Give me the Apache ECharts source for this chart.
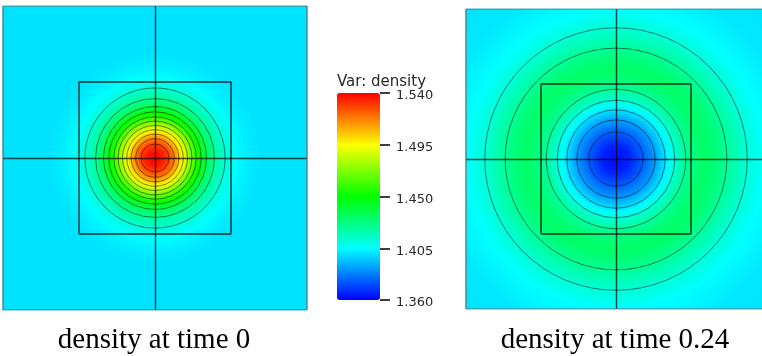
<!DOCTYPE html>
<html>
<head>
<meta charset="utf-8">
<script src="https://cdn.jsdelivr.net/npm/echarts@6/dist/echarts.min.js"></script>
<style>
html, body { margin: 0; padding: 0; background: #fff; }
#chart { width: 762px; height: 356px; }
</style>
</head>
<body>
<div id="chart"></div>
<script>
// radial density profiles (r in panel units, panel spans -1..1)
var profileR0 = [0, 0.05, 0.092, 0.127, 0.157, 0.186, 0.214, 0.243, 0.271, 0.304, 0.339, 0.391, 0.461, 0.53, 0.60, 0.70, 1.5];
var profileV0 = [1.540, 1.536, 1.528, 1.517, 1.505, 1.493, 1.482, 1.470, 1.458, 1.447, 1.435, 1.423, 1.412, 1.405, 1.402, 1.400, 1.400];
var profileR1 = [0, 0.09, 0.181, 0.261, 0.328, 0.392, 0.465, 0.53, 0.60, 0.67, 0.739, 0.875, 1.0, 1.2, 1.5];
var profileV1 = [1.362, 1.366, 1.377, 1.388, 1.400, 1.412, 1.423, 1.429, 1.432, 1.429, 1.423, 1.412, 1.405, 1.401, 1.400];

// contour circles (radius, level)
var contourR0 = [0.461, 0.391, 0.339, 0.304, 0.271, 0.243, 0.214, 0.186, 0.157, 0.127, 0.092];
var contourV0 = [1.412, 1.423, 1.435, 1.447, 1.458, 1.470, 1.482, 1.493, 1.505, 1.517, 1.528];
var contourR1 = [0.181, 0.261, 0.328, 0.392, 0.465, 0.739, 0.875];
var contourV1 = [1.377, 1.388, 1.400, 1.412, 1.423, 1.423, 1.412];

var captions = ['density at time 0', 'density at time 0.24'];
var barTitle = 'Var: density';
var barTicks = ['1.360', '1.405', '1.450', '1.495', '1.540'];
var barColors = ['#0000ff', '#00ffff', '#00ff00', '#ffff00', '#ff0000'];
var densityRange = [1.36, 1.54];
var extent = [-1, 1];
var blockEdges = [-0.5, 0.5];
var crossAt = 0;

function lookup(rs, vs, r) {
    for (var k = 1; k < rs.length; k++) {
        if (r <= rs[k]) {
            var t = (r - rs[k - 1]) / (rs[k] - rs[k - 1]);
            return vs[k - 1] + t * (vs[k] - vs[k - 1]);
        }
    }
    return vs[vs.length - 1];
}

function field(rs, vs, n) {
    var out = [];
    var step = (extent[1] - extent[0]) / n;
    for (var i = 0; i < n; i++) {
        for (var j = 0; j < n; j++) {
            var x = extent[0] + (i + 0.5) * step;
            var y = extent[0] + (j + 0.5) * step;
            out.push([i, j, lookup(rs, vs, Math.sqrt(x * x + y * y))]);
        }
    }
    return out;
}

function ids(n) {
    var list = [];
    for (var i = 0; i < n; i++) list.push(i);
    return list;
}

var panels = [
    { left: 3, top: 6, size: 304, cells: 152, prof: [profileR0, profileV0], cont: [contourR0, contourV0] },
    { left: 466, top: 9, size: 300, cells: 150, prof: [profileR1, profileV1], cont: [contourR1, contourV1] }
];

var grids = [], xAxes = [], yAxes = [], series = [];
panels.forEach(function (p, k) {
    var box = { left: p.left, top: p.top, width: p.size, height: p.size, outerBoundsMode: 'none' };
    grids.push(Object.assign({}, box), Object.assign({}, box));
    var g = k * 2;
    xAxes.push({ type: 'category', gridIndex: g, data: ids(p.cells), show: false });
    yAxes.push({ type: 'category', gridIndex: g, data: ids(p.cells), show: false });
    xAxes.push({ type: 'value', gridIndex: g + 1, min: extent[0], max: extent[1], show: false });
    yAxes.push({ type: 'value', gridIndex: g + 1, min: extent[0], max: extent[1], show: false });
});

// heatmaps (series 0 and 1)
panels.forEach(function (p, k) {
    series.push({
        type: 'heatmap',
        xAxisIndex: k * 2,
        yAxisIndex: k * 2,
        data: field(p.prof[0], p.prof[1], p.cells),
        progressive: 0,
        silent: true
    });
});

var a = blockEdges[0], b = blockEdges[1];
var lo = extent[0], hi = extent[1];
panels.forEach(function (p, k) {
    var ax = k * 2 + 1;
    // contour circles
    series.push({
        type: 'custom',
        xAxisIndex: ax,
        yAxisIndex: ax,
        silent: true,
        z: 5,
        data: p.cont[0].map(function (r, i) { return [r, p.cont[1][i]]; }),
        encode: { x: 0, y: 1 },
        renderItem: function (params, api) {
            var c = api.coord([crossAt, crossAt]);
            var r = api.size([api.value(0), 0])[0];
            return {
                type: 'circle',
                shape: { cx: c[0], cy: c[1], r: r },
                style: { fill: null, stroke: 'rgba(0,0,0,0.5)', lineWidth: 1 }
            };
        }
    });
    // block outline + centre cross
    series.push({
        type: 'line',
        xAxisIndex: ax,
        yAxisIndex: ax,
        silent: true,
        z: 6,
        symbol: 'none',
        data: [[a, a], [b, a], [b, b], [a, b], [a, a]],
        lineStyle: { color: 'rgba(0,0,0,0.8)', width: 1.4 },
        markLine: {
            silent: true,
            symbol: 'none',
            label: { show: false },
            lineStyle: { color: 'rgba(0,0,0,0.72)', width: 1.4, type: 'solid' },
            data: [{ xAxis: crossAt }, { yAxis: crossAt }]
        }
    });
    // panel frame
    series.push({
        type: 'line',
        xAxisIndex: ax,
        yAxisIndex: ax,
        silent: true,
        z: 6,
        symbol: 'none',
        data: [[lo, lo], [hi, lo], [hi, hi], [lo, hi], [lo, lo]],
        lineStyle: { color: '#56737a', width: 1.2 }
    });
});

// colour bar tick axis
grids.push({ left: 337, top: 93, width: 43, height: 207, outerBoundsMode: 'none' });
xAxes.push({ type: 'value', gridIndex: 4, min: 0, max: 1, show: false });
yAxes.push({
    type: 'value',
    gridIndex: 4,
    position: 'right',
    min: 0,
    max: barTicks.length - 1,
    interval: 1,
    z: 10,
    axisLine: { show: false, onZero: false },
    axisTick: { show: true, length: 10, lineStyle: { color: '#000', width: 1.5 } },
    splitLine: { show: false },
    axisLabel: {
        margin: 16,
        color: '#2a2a2a',
        fontFamily: 'DejaVu Sans',
        fontSize: 13,
        formatter: function (v) { return '{t|' + barTicks[v] + '}'; },
        rich: {
            t: { fontFamily: 'DejaVu Sans', fontSize: 13, color: '#2a2a2a', padding: [6, 0, 0, 0] }
        }
    }
});

var myChart = echarts.init(document.getElementById('chart'));
var option = {
    backgroundColor: '#fff',
    animation: false,
    title: [
        { text: barTitle, left: 337, top: 75, padding: 0,
          textStyle: { fontFamily: 'DejaVu Sans', fontSize: 15, fontWeight: 'normal', color: '#2a2a2a' } },
        { text: captions[0], left: 154, top: 326, padding: 0, textAlign: 'center',
          textStyle: { fontFamily: 'Liberation Serif', fontSize: 29, fontWeight: 'normal', color: '#000' } },
        { text: captions[1], left: 615, top: 326, padding: 0, textAlign: 'center',
          textStyle: { fontFamily: 'Liberation Serif', fontSize: 29, fontWeight: 'normal', color: '#000' } }
    ],
    grid: grids,
    xAxis: xAxes,
    yAxis: yAxes,
    visualMap: {
        type: 'continuous',
        min: densityRange[0],
        max: densityRange[1],
        seriesIndex: [0, 1],
        calculable: false,
        hoverLink: false,
        left: 337,
        top: 93,
        padding: 0,
        itemWidth: 43,
        itemHeight: 207,
        inRange: { color: barColors }
    },
    series: series
};
myChart.setOption(option);
</script>
</body>
</html>
